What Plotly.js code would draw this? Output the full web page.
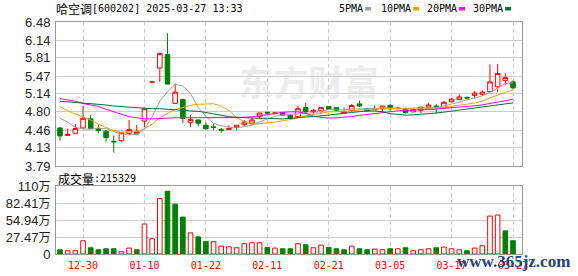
<!DOCTYPE html>
<html>
<head>
<meta charset="utf-8">
<script src="https://cdn.plot.ly/plotly-3.0.1.min.js"></script>
<style>
html,body{margin:0;padding:0;background:#fff;}
#chart{width:578px;height:276px;}
</style>
</head>
<body>
<div id="chart"></div>
<script>
// ---------------- data ----------------
const stockName = '哈空调';
const stockCode = '[600202]';
const stamp = '2025-03-27 13:33';

const dates = ['12-25','12-26','12-27','12-30','12-31','01-02','01-03','01-06','01-07','01-08',
  '01-09','01-10','01-13','01-14','01-15','01-16','01-17','01-20','01-21','01-22',
  '01-23','01-24','01-27','02-05','02-06','02-07','02-10','02-11','02-12','02-13',
  '02-14','02-17','02-18','02-19','02-20','02-21','02-24','02-25','02-26','02-27',
  '02-28','03-03','03-04','03-05','03-06','03-07','03-10','03-11','03-12','03-13',
  '03-14','03-17','03-18','03-19','03-20','03-21','03-24','03-25','03-26','03-27'];

const tickDates = ['12-30','01-10','01-22','02-11','02-21','03-05','03-17','03-27'];

const open = [4.50,4.36,4.40,4.50,4.67,4.49,4.44,4.25,4.26,4.40,
  4.39,4.63,5.36,5.62,5.87,4.96,5.03,4.60,4.65,4.55,
  4.52,4.47,4.47,4.51,4.56,4.59,4.71,4.79,4.77,4.79,
  4.74,4.71,4.88,4.80,4.82,4.90,4.88,4.78,4.83,4.95,
  4.86,4.84,4.86,4.92,4.86,4.85,4.80,4.83,4.88,4.91,
  4.88,4.99,5.03,5.07,5.11,5.13,5.18,5.27,5.39,5.36];
const high = [4.52,4.49,4.57,4.91,4.74,4.57,4.46,4.36,4.41,4.65,
  4.56,4.87,5.36,5.91,6.27,5.33,5.04,4.74,4.66,4.60,
  4.58,4.50,4.55,4.55,4.65,4.69,4.78,4.81,4.79,4.79,
  4.76,4.91,4.97,4.85,4.88,4.91,4.88,4.88,4.95,5.01,
  4.88,4.92,4.91,4.95,4.90,4.88,4.86,4.89,4.97,4.95,
  5.00,5.06,5.13,5.09,5.19,5.20,5.69,5.70,5.52,5.39];
const low = [4.26,4.36,4.40,4.50,4.49,4.40,4.24,4.04,4.24,4.37,
  4.39,4.52,5.36,5.36,5.32,4.96,4.59,4.52,4.53,4.46,
  4.46,4.41,4.47,4.46,4.52,4.55,4.68,4.75,4.75,4.74,
  4.66,4.70,4.77,4.77,4.77,4.84,4.80,4.78,4.80,4.89,
  4.81,4.84,4.80,4.82,4.85,4.77,4.80,4.78,4.88,4.77,
  4.88,4.99,5.03,5.03,5.05,5.10,5.18,5.17,5.30,5.22];
const close = [4.35,4.38,4.49,4.68,4.49,4.45,4.32,4.24,4.41,4.47,
  4.43,4.86,5.36,5.89,5.32,5.17,4.68,4.66,4.59,4.49,
  4.51,4.46,4.49,4.55,4.61,4.65,4.78,4.78,4.78,4.74,
  4.68,4.86,4.80,4.83,4.88,4.85,4.83,4.80,4.92,4.91,
  4.82,4.85,4.91,4.86,4.87,4.79,4.85,4.89,4.93,4.90,
  4.98,5.04,5.08,5.06,5.15,5.17,5.36,5.52,5.44,5.25];

const ma5 = [4.68,4.61,4.51,4.48,4.478,4.498,4.486,4.436,4.382,4.378,
  4.374,4.482,4.706,5.002,5.172,5.32,5.284,5.144,4.884,4.718,
  4.586,4.542,4.508,4.50,4.524,4.552,4.616,4.674,4.72,4.746,
  4.752,4.768,4.772,4.782,4.81,4.844,4.838,4.838,4.856,4.862,
  4.856,4.86,4.882,4.87,4.862,4.856,4.856,4.852,4.866,4.872,
  4.91,4.948,4.986,5.012,5.062,5.10,5.164,5.252,5.328,5.348];
const ma10 = [4.90,4.82,4.76,4.71,4.65,4.57,4.51,4.45,4.42,4.428,
  4.436,4.484,4.571,4.692,4.775,4.847,4.883,4.925,4.943,4.945,
  4.953,4.913,4.826,4.692,4.621,4.569,4.579,4.590,4.609,4.635,
  4.657,4.694,4.725,4.752,4.778,4.798,4.802,4.804,4.818,4.835,
  4.849,4.849,4.86,4.863,4.862,4.856,4.858,4.867,4.868,4.867,
  4.883,4.902,4.919,4.939,4.967,5.005,5.056,5.119,5.17,5.205];
const ma20 = [5.05,5.03,5.00,4.96,4.93,4.90,4.85,4.80,4.75,4.71,
  4.69,4.67,4.67,4.68,4.69,4.69,4.69,4.69,4.69,4.687,
  4.694,4.698,4.698,4.692,4.698,4.708,4.731,4.758,4.776,4.790,
  4.802,4.802,4.774,4.721,4.699,4.683,4.69,4.697,4.714,4.736,
  4.753,4.772,4.793,4.808,4.821,4.827,4.83,4.836,4.843,4.851,
  4.867,4.876,4.890,4.901,4.915,4.931,4.957,4.993,5.019,5.036];
const ma30 = [5.00,4.99,4.98,4.97,4.96,4.95,4.93,4.91,4.90,4.88,
  4.87,4.86,4.86,4.86,4.85,4.85,4.84,4.83,4.81,4.79,
  4.76,4.73,4.71,4.70,4.69,4.68,4.68,4.68,4.67,4.669,
  4.680,4.696,4.706,4.711,4.724,4.737,4.754,4.773,4.79,4.805,
  4.818,4.817,4.802,4.768,4.753,4.740,4.746,4.754,4.765,4.779,
  4.796,4.815,4.835,4.852,4.869,4.886,4.905,4.93,4.952,4.969];

// volume in 万 (10k lots); volUp: 1 = red (up), 0 = green (down)
const volWan = [6.9,5.3,5.3,21.4,10.1,6.9,8.5,8.5,3.7,9.6,
  6.9,48.6,24.6,89.7,101.5,80.6,59.8,34.2,27.8,20.3,
  19.8,12.8,11.7,10.1,16.6,18.2,18.2,10.7,9.6,8.5,
  8.5,16.6,15.0,10.1,14.4,10.7,8.5,6.9,12.8,8.5,
  6.9,8.0,6.9,8.5,8.5,10.1,5.3,6.9,8.5,10.1,
  11.2,8.5,6.9,5.3,9.6,13.4,61.4,63.0,37.4,21.5329];
const volUp = [0,1,1,1,0,0,0,0,1,1,
  0,1,1,1,0,0,0,1,0,0,
  1,1,1,1,1,1,1,0,1,0,
  0,1,0,1,1,0,0,0,1,0,
  0,1,1,0,1,0,1,1,1,0,
  1,1,1,0,1,1,1,1,0,0];

const priceTicks = [3.79,4.13,4.46,4.80,5.14,5.47,5.81,6.14,6.48];
const volTicksWan = [0,27.47,54.94,82.41,110];
const maNames = ['5PMA','10PMA','20PMA','30PMA'];

// ---------------- style ----------------
const RED = '#ff0000', GREEN = '#008000';
const maColors = ['#a0a0a0','#f5a000','#ff00ff','#00702e'];
const W = 578, H = 276, ML = 56, MR = 56, MT = 22, MB = 22;
const PW = W - ML - MR, PH = H - MT - MB;
const px = v => (v - ML) / PW;
const py = v => (H - MB - v) / PH;

const idx = dates.map((d, i) => i);
const tickvals = tickDates.map(d => dates.indexOf(d));
const vol = volWan.map(v => Math.round(v * 10000));

const traces = [];
traces.push({
  type: 'candlestick', x: idx, open: open, high: high, low: low, close: close,
  xaxis: 'x', yaxis: 'y', whiskerwidth: 0, hoverinfo: 'skip', showlegend: false,
  increasing: {line: {color: RED, width: 1}, fillcolor: '#ffffff'},
  decreasing: {line: {color: GREEN, width: 1}, fillcolor: GREEN}
});
[ma5, ma10, ma20, ma30].forEach((m, k) => {
  traces.push({type: 'scatter', mode: 'lines', x: idx, y: m, xaxis: 'x', yaxis: 'y',
    line: {color: maColors[k], width: 1}, hoverinfo: 'skip', showlegend: false});
});
traces.push({
  type: 'bar', x: idx, y: vol, xaxis: 'x2', yaxis: 'y2', width: 0.6,
  marker: {color: volUp.map(u => u ? '#ffffff' : GREEN),
           line: {color: volUp.map(u => u ? RED : GREEN), width: 1}},
  hoverinfo: 'skip', showlegend: false
});

const xr = [-0.52, 60.17];
const frame = {showline: true, mirror: true, linecolor: '#999999', linewidth: 1, zeroline: false};
const monoFont = {family: 'DejaVu Sans Mono', size: 10, color: '#000'};
const cjkFont = {family: 'Noto Sans CJK SC', size: 12, color: '#000'};

const annotations = [];
function ann(text, x, y, font, anchor) {
  annotations.push({text: text, xref: 'paper', yref: 'paper', x: px(x), y: py(y),
    xanchor: anchor || 'left', yanchor: 'middle', showarrow: false, borderpad: 0, font: font});
}
ann(stockName, 55, 9, cjkFont);
ann(stockCode + ' ' + stamp, 90.5, 9, monoFont);
const legX = [338, 380, 426, 472];
const shapes = [];
maNames.forEach((n, k) => {
  ann(n, legX[k], 8.5, monoFont);
  const sx = legX[k] + n.length * 6.02 + 3;
  shapes.push({type: 'rect', xref: 'paper', yref: 'paper', x0: px(sx), x1: px(sx + 6),
    y0: py(10.5), y1: py(7), fillcolor: maColors[k], line: {width: 0}});
});
ann('成交量', 57, 178, cjkFont);
ann(':' + vol[vol.length - 1], 93, 178, monoFont);
annotations.push({text: 'www.365jz.com', xref: 'paper', yref: 'paper', x: px(456), y: py(261.5),
  xanchor: 'left', yanchor: 'middle', showarrow: false, borderpad: 0,
  font: {family: 'Liberation Serif', size: 17, color: '#1f3f86', weight: 'bold'}});
shapes.push({type: 'rect', xref: 'paper', yref: 'paper', layer: 'below',
  x0: px(235), x1: px(382), y0: py(106), y1: py(66), line: {width: 0}, fillcolor: 'rgba(0,0,0,0)',
  label: {text: '东方财富', textposition: 'middle center',
    font: {family: 'Noto Sans CJK SC', size: 35, color: '#ececec', weight: 'bold'}}});

const layout = {
  width: W, height: H, margin: {l: ML, r: MR, t: MT, b: MB, pad: 0},
  paper_bgcolor: '#ffffff', plot_bgcolor: '#ffffff', showlegend: false,
  font: {family: 'Liberation Sans', size: 13, color: '#222'},
  xaxis: Object.assign({domain: [0, 1], range: xr, anchor: 'y', tickvals: tickvals,
    showticklabels: false, ticks: '', showgrid: true, gridcolor: '#cccccc', griddash: '4px,3px',
    gridwidth: 1, rangeslider: {visible: false}, fixedrange: true}, frame),
  yaxis: Object.assign({domain: [py(166), 1], range: [3.789, 6.481], anchor: 'x',
    tickvals: priceTicks, ticktext: priceTicks.map(v => v.toFixed(2)), ticks: '',
    showgrid: true, gridcolor: '#cccccc', gridwidth: 1, ticklabelstandoff: 2,
    tickfont: {family: 'Liberation Sans', size: 13, color: '#222'}, fixedrange: true}, frame),
  xaxis2: Object.assign({domain: [0, 1], range: xr, anchor: 'y2', tickvals: tickvals,
    ticktext: tickDates, ticks: '', showgrid: true, gridcolor: '#cccccc', griddash: '4px,3px',
    gridwidth: 1, tickfont: {family: 'DejaVu Sans Mono', size: 10, color: RED},
    ticklabelstandoff: 2, fixedrange: true}, frame),
  yaxis2: Object.assign({domain: [0, py(186)], range: [0, 1100500], anchor: 'x2',
    tickvals: volTicksWan.map(v => v * 10000),
    ticktext: volTicksWan.map(v => v === 0 ? '0' : v + '<span style="font-family:Noto Sans CJK SC;font-size:12px">万</span>'),
    ticks: '', showgrid: true, gridcolor: '#cccccc', gridwidth: 1, ticklabelstandoff: 2,
    tickfont: {family: 'Liberation Sans', size: 13, color: '#222'}, fixedrange: true}, frame),
  bargap: 0, boxgap: 0.15,
  annotations: annotations, shapes: shapes
};

Plotly.newPlot('chart', traces, layout, {staticPlot: true, displayModeBar: false});
</script>
</body>
</html>
